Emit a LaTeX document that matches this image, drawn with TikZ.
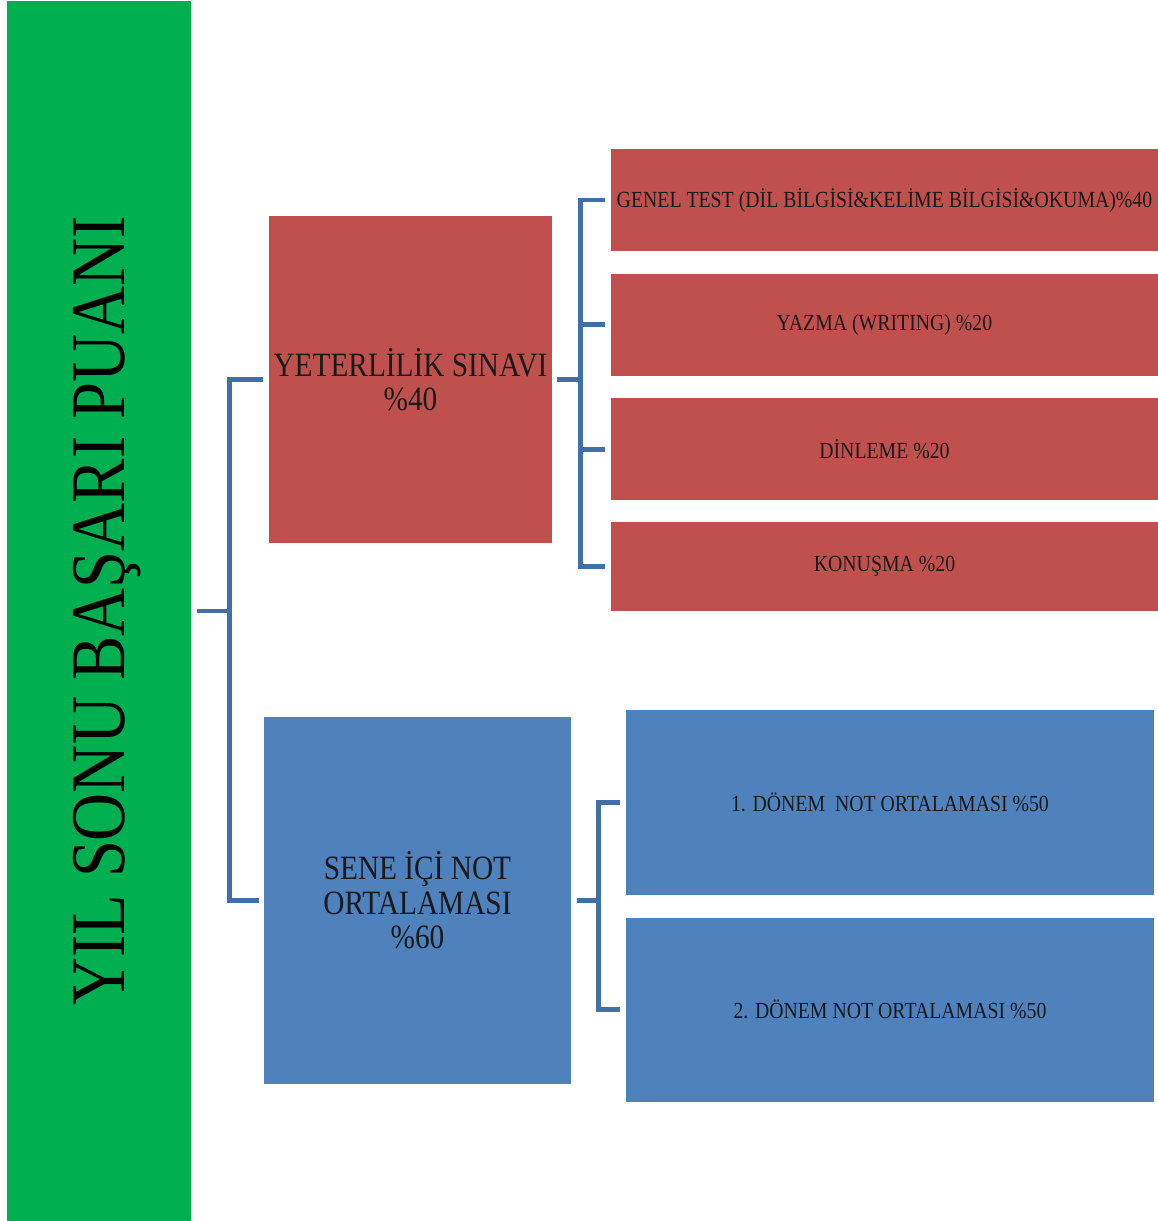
\documentclass[tikz,border=0pt]{standalone}
\usepackage{fontspec}
\setmainfont{Liberation Serif}[FakeStretch=0.86]
\usetikzlibrary{positioning, calc}
\definecolor{colour_green}{HTML}{00B050}
\definecolor{colour_red}{HTML}{C0504D}
\definecolor{colour_blue}{HTML}{4F81BD}
\definecolor{colour_line}{HTML}{4170A6}

\begin{document}
\begin{tikzpicture}
   [
      bigbox/.style={rectangle, inner sep=2pt, align=center, text=black!90,
         font=\fontsize{19.4}{19.6}\selectfont},
      smallbox/.style={rectangle, inner sep=2pt, align=center, text=black!90,
         font=\fontsize{13.1}{14}\selectfont},
      conn/.style={line width=2.8pt, colour_line},
      node distance=0.44cm
   ]

   \useasboundingbox (0,0) rectangle (23.16,-24.42);

   % =======================================================
   % Left: title bar
   % =======================================================

   \node[fill=colour_green, minimum width=3.68cm, minimum height=24.4cm,
      font=\fontsize{44}{44}\selectfont] (title) at (1.98,-12.22)
      {\rotatebox{90}{\raisebox{0pt}[\height][0pt]{YIL SONU BAŞARI PUANI}}};

   % =======================================================
   % Middle: the two main parts
   % =======================================================

   \node[bigbox, fill=colour_red, minimum width=5.66cm, minimum height=6.54cm]
      (yeterlilik) at (8.21,-7.59) {YETERLİLİK SINAVI\\\%40};
   \node[bigbox, fill=colour_blue, minimum width=6.14cm, minimum height=7.34cm]
      (seneici) at (8.35,-18.01) {SENE İÇİ NOT\\ORTALAMASI\\\%60};

   % =======================================================
   % Right: sub parts
   % =======================================================

   % Red column
   \node[smallbox, fill=colour_red, minimum width=10.94cm, minimum height=2.04cm]
      (genel) at (17.69,-4.0) {GENEL TEST (DİL BİLGİSİ\&KELİME BİLGİSİ\&OKUMA)\%40};
   \node[smallbox, fill=colour_red, minimum width=10.94cm, minimum height=2.04cm,
      below=of genel] (yazma) {YAZMA (WRITING) \%20};
   \node[smallbox, fill=colour_red, minimum width=10.94cm, minimum height=2.04cm,
      below=of yazma] (dinleme) {DİNLEME \%20};
   \node[smallbox, fill=colour_red, minimum width=10.94cm, minimum height=1.78cm,
      below=0.42cm of dinleme] (konusma) {KONUŞMA \%20};

   % Blue column
   \node[smallbox, fill=colour_blue, minimum width=10.56cm, minimum height=3.7cm]
      (donem1) at (17.8,-16.05) {1. DÖNEM~~NOT ORTALAMASI \%50};
   \node[smallbox, fill=colour_blue, minimum width=10.56cm, minimum height=3.68cm,
      below=of donem1] (donem2) {2. DÖNEM NOT ORTALAMASI \%50};

   % =======================================================
   % Connectors (elbow lines)
   % =======================================================

   % Bus points
   \coordinate (mainbus) at ($(title.east)+(0.76,0)$);
   \coordinate (redbus) at ($(yeterlilik.east)+(0.56,0)$);
   \coordinate (bluebus) at ($(seneici.east)+(0.54,0)$);

   % Title to the main parts
   \draw[conn, shorten <=0.12cm] (title.east) -- (mainbus);
   \draw[conn, shorten >=0.12cm] (mainbus) |- (yeterlilik.west);
   \draw[conn, shorten >=0.1cm] (mainbus) |- (seneici.west);

   % Yeterlilik to its parts
   \draw[conn, shorten <=0.1cm] (yeterlilik.east) -- (redbus);
   \foreach \part in {genel, yazma, dinleme, konusma}
      \draw[conn, shorten >=0.12cm] (redbus) |- (\part.west);

   % Sene ici to its parts
   \draw[conn, shorten <=0.12cm] (seneici.east) -- (bluebus);
   \foreach \part in {donem1, donem2}
      \draw[conn, shorten >=0.12cm] (bluebus) |- (\part.west);

\end{tikzpicture}
\end{document}
